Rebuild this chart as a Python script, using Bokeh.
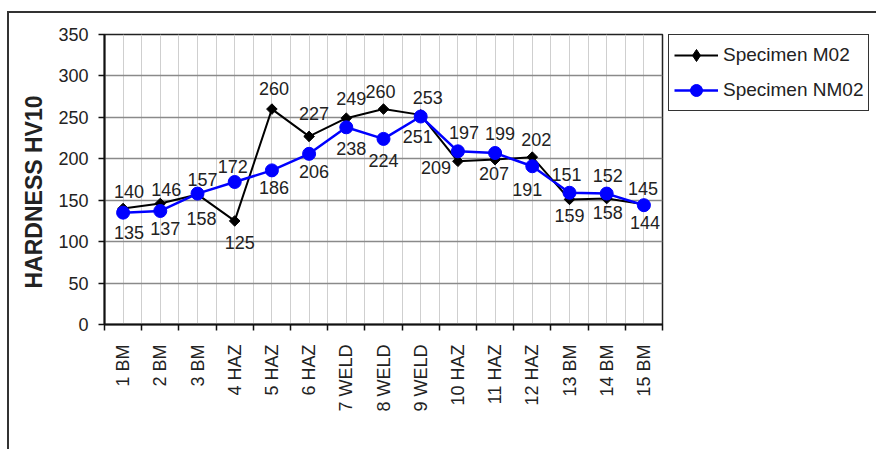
import math
from bokeh.plotting import figure
from bokeh.layouts import row
from bokeh.models import (FixedTicker, Legend, LegendItem, ColumnDataSource,
                          Range1d, Title)
from bokeh.core.properties import value
from bokeh.embed import file_html
from bokeh.resources import INLINE

categories = ["1 BM", "2 BM", "3 BM", "4 HAZ", "5 HAZ", "6 HAZ", "7 WELD",
              "8 WELD", "9 WELD", "10 HAZ", "11 HAZ", "12 HAZ", "13 BM",
              "14 BM", "15 BM"]
m02 = [140, 146, 157, 125, 260, 227, 249, 260, 253, 197, 199, 202, 151, 152, 145]
nm02 = [135, 137, 158, 172, 186, 206, 238, 224, 251, 209, 207, 191, 159, 158, 144]
y_ticks = [0, 50, 100, 150, 200, 250, 300, 350]
series_names = ["Specimen M02", "Specimen NM02"]
y_label = "HARDNESS HV10"

# label offsets in screen pixels (style only)
m02_dx = [6, 6, 5, 5, 2, 5, 5, -3, 7, 6, 5, 4, -3, 1, -1]
m02_dy = [-17, -14, -15, 22, -21, -23, -20, -18, -17, -29, -26, -18, -25, -23, -16]
nm02_dx = [6, 5, 4, -2, 2, 5, 5, 0, -3, -22, -1, -5, 0, 1, 1]
nm02_dy = [20, 18, 25, -15, 17, 18, 21, 22, 20, 16, 21, 23, 23, 19, 17]

FONT = "Liberation Sans"
BLUE = "#0000ff"
xs = list(range(1, len(categories) + 1))

src_m = ColumnDataSource(dict(x=xs, y=m02, t=[str(v) for v in m02], dx=m02_dx, dy=m02_dy))
src_n = ColumnDataSource(dict(x=xs, y=nm02, t=[str(v) for v in nm02], dx=nm02_dx, dy=nm02_dy))

H = 436
p = figure(width=655, height=H, output_backend="svg", toolbar_location=None,
           title=None, x_range=Range1d(0.5, len(categories) + 0.5),
           y_range=Range1d(0, 350),
           min_border_left=95, min_border_top=20, min_border_right=2,
           min_border_bottom=125)
p.background_fill_color = "white"
p.border_fill_color = "white"
p.outline_line_color = "#222222"
p.outline_line_width = 1.5

# x axis: labels at centres, ticks at boundaries
xt = FixedTicker(ticks=xs, minor_ticks=[i + 0.5 for i in range(0, len(categories) + 1)])
p.xaxis.ticker = xt
p.xaxis.major_label_overrides = {i: c for i, c in zip(xs, categories)}
p.xaxis.major_label_orientation = math.pi / 2
p.xaxis.major_tick_out = 0
p.xaxis.major_tick_in = 0
p.xaxis.minor_tick_out = 6
p.xaxis.minor_tick_in = 0
p.xaxis.minor_tick_line_color = "#111111"
p.xaxis.minor_tick_line_width = 1.5
p.xaxis.major_label_standoff = 14
p.xaxis.major_label_text_font = FONT
p.xaxis.major_label_text_font_size = "18px"
p.xaxis.major_label_text_color = "#222222"
p.xaxis.axis_line_color = "#111111"
p.xaxis.axis_line_width = 2

p.yaxis.ticker = FixedTicker(ticks=y_ticks, minor_ticks=[])
p.yaxis.major_tick_out = 6
p.yaxis.major_tick_in = 0
p.yaxis.major_tick_line_color = "#111111"
p.yaxis.major_tick_line_width = 1.5
p.yaxis.major_label_standoff = 10
p.yaxis.major_label_text_font = FONT
p.yaxis.major_label_text_font_size = "18px"
p.yaxis.major_label_text_color = "#222222"
p.yaxis.axis_line_color = "#111111"
p.yaxis.axis_line_width = 2

# y axis title, placed as a side title so it can sit slightly below centre
ytitle = Title(text=y_label, align="left", offset=36, standoff=18,
               text_font=FONT, text_font_style="bold", text_font_size="23px",
               text_color="#222222")
p.add_layout(ytitle, "left")

p.xgrid.grid_line_color = "#cfcfcf"
p.xgrid.grid_line_width = 1
p.xgrid.minor_grid_line_color = "#cfcfcf"
p.xgrid.minor_grid_line_width = 1
p.ygrid.grid_line_color = "#8a8a8a"
p.ygrid.grid_line_width = 1.5

p.line("x", "y", source=src_m, line_color="black", line_width=2)
p.scatter("x", "y", source=src_m, marker="square", angle=math.pi / 4,
          size=7.5, fill_color="black", line_color="black")
p.line("x", "y", source=src_n, line_color=BLUE, line_width=2.5)
p.scatter("x", "y", source=src_n, marker="circle", size=13,
          fill_color=BLUE, line_color=BLUE)

for src in (src_m, src_n):
    p.text("x", "y", text="t", source=src, x_offset="dx", y_offset="dy",
           text_align="center", text_baseline="middle",
           text_font=value(FONT), text_font_size="18px", text_color="#222222")

# legend panel (separate figure to the right of the plot area); its glyphs
# sit outside the visible range so that only the legend shows
p2 = figure(width=212, height=H, output_backend="svg", toolbar_location=None,
            title=None, x_range=Range1d(0, 1), y_range=Range1d(0, 1),
            x_axis_type=None, y_axis_type=None,
            min_border_left=4, min_border_top=21, min_border_right=0,
            min_border_bottom=0)
p2.outline_line_color = None
p2.grid.visible = False
p2.background_fill_color = "white"
p2.border_fill_color = "white"
hidden = ColumnDataSource(dict(x=[-10], y=[-10]))
l1 = p2.line("x", "y", source=hidden, line_color="black", line_width=2)
s1 = p2.scatter("x", "y", source=hidden, marker="diamond", size=13,
                fill_color="black", line_color="black")
l2 = p2.line("x", "y", source=hidden, line_color=BLUE, line_width=2.5)
s2 = p2.scatter("x", "y", source=hidden, marker="circle", size=13,
                fill_color=BLUE, line_color=BLUE)

legend = Legend(items=[LegendItem(label=series_names[0], renderers=[l1, s1]),
                       LegendItem(label=series_names[1], renderers=[l2, s2])],
                location="top_left")
legend.label_text_font = FONT
legend.label_text_font_size = "19px"
legend.label_text_color = "#222222"
legend.glyph_width = 44
legend.glyph_height = 30
legend.label_height = 30
legend.label_standoff = 5
legend.spacing = 5
legend.padding = 5
legend.margin = 0
legend.border_line_color = "#333333"
legend.border_line_alpha = 1.0
legend.border_line_width = 1.5
legend.background_fill_color = "white"
legend.background_fill_alpha = 1.0
p2.add_layout(legend, "center")

layout = row(p, p2)
layout.styles = {"border-top": "2px solid #333", "border-left": "2px solid #333",
                 "margin-top": "11px", "margin-left": "7px"}

open("out.html", "w").write(file_html(layout, INLINE))
